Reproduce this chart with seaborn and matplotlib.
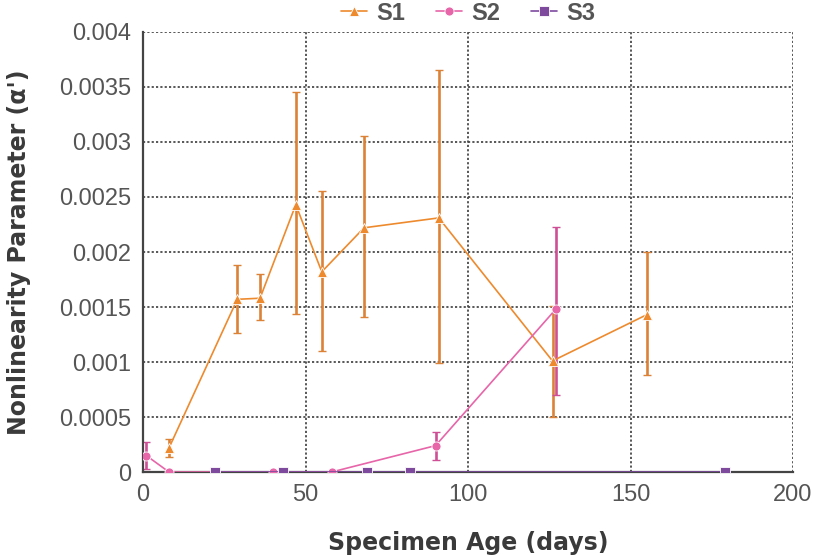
import matplotlib
matplotlib.use("Agg")
import matplotlib.pyplot as plt
import seaborn as sns
import pandas as pd

# Specimen S1
s1_age = [8, 29, 36, 47, 55, 68, 91, 126, 155]
s1_val = [0.00022, 0.00157, 0.00158, 0.00243, 0.00182, 0.00222, 0.00231, 0.00101, 0.00143]
s1_err_lo = [0.00008, 0.00031, 0.00020, 0.00099, 0.00072, 0.00081, 0.00132, 0.00051, 0.00055]
s1_err_hi = [0.00008, 0.00031, 0.00022, 0.00102, 0.00073, 0.00083, 0.00134, 0.00050, 0.00057]

# Specimen S2
s2_age = [1, 8, 40, 58, 90, 127]
s2_val = [0.00015, 0.0, 0.0, 0.0, 0.00024, 0.00148]
s2_err_lo = [0.00012, 0.0, 0.0, 0.0, 0.00013, 0.00078]
s2_err_hi = [0.00012, 0.0, 0.0, 0.0, 0.00012, 0.00075]

# Specimen S3
s3_age = [22, 43, 69, 82, 179]
s3_val = [0.0, 0.0, 0.0, 0.0, 0.0]

y_ticks = [0, 0.0005, 0.001, 0.0015, 0.002, 0.0025, 0.003, 0.0035, 0.004]
y_tick_labels = ["0", "0.0005", "0.001", "0.0015", "0.002", "0.0025", "0.003", "0.0035", "0.004"]
x_ticks = [0, 50, 100, 150, 200]

c1, c2, c3 = "#EE8A2E", "#E765A9", "#7E4A9E"

sns.set_theme(style="white")
plt.rcParams["font.family"] = ["Liberation Sans", "DejaVu Sans"]

fig = plt.figure(figsize=(8.15, 5.56), dpi=100)
ax = fig.add_axes([0.1755, 0.151, 0.7975, 0.7915])

df = pd.concat([
    pd.DataFrame({"age": s1_age, "val": s1_val, "series": "S1"}),
    pd.DataFrame({"age": s2_age, "val": s2_val, "series": "S2"}),
    pd.DataFrame({"age": s3_age, "val": s3_val, "series": "S3"}),
])

# error bars first so the lines and markers sit on top
for ages, vals, lo, hi, col in [(s1_age, s1_val, s1_err_lo, s1_err_hi, "#DB8236"),
                                (s2_age, s2_val, s2_err_lo, s2_err_hi, "#CF4F96")]:
    _, caps, _ = ax.errorbar(ages, vals, yerr=[lo, hi], fmt="none", ecolor=col,
                             elinewidth=1.9, capsize=3, capthick=1.0, zorder=2)
    for cap in caps:
        cap.set_color("#8a8a8a")

sns.lineplot(data=df, x="age", y="val", hue="series", style="series",
             palette={"S1": c1, "S2": c2, "S3": c3},
             markers={"S1": "^", "S2": "o", "S3": "s"},
             dashes=False, markersize=6.5, linewidth=1.2,
             markeredgewidth=0.6, ax=ax, sort=False, zorder=3)

ax.set_xlim(0, 200)
ax.set_ylim(0, 0.004)
ax.set_xticks(x_ticks)
ax.set_yticks(y_ticks)
ax.set_yticklabels(y_tick_labels)
ax.tick_params(axis="both", labelsize=17, colors="#444444", length=5,
               direction="inout", width=1.2, pad=6)
for lab in ax.get_xticklabels() + ax.get_yticklabels():
    lab.set_color("#555555")

ax.grid(True, linestyle=(0, (1.2, 1.2)), color="#4a4a4a", linewidth=1.3)
for side in ["top", "right"]:
    ax.spines[side].set_visible(False)
for side in ["left", "bottom"]:
    ax.spines[side].set_color("#444444")
    ax.spines[side].set_linewidth(1.6)

label_font = dict(fontsize=17, fontweight="bold", color="#3a3a3a", family=["DejaVu Sans"])
ax.set_xlabel("Specimen Age (days)", labelpad=18, **label_font)
ax.set_ylabel("Nonlinearity Parameter (\u03b1')", labelpad=20, **label_font)

handles, labels = ax.get_legend_handles_labels()
leg = ax.legend(handles, labels, loc="lower center", bbox_to_anchor=(0.5, 0.995),
                ncol=3, frameon=False, fontsize=17, handlelength=1.1,
                columnspacing=1.3, handletextpad=0.4, borderaxespad=0)
for t in leg.get_texts():
    t.set_color("#555555")
    t.set_fontweight("bold")

fig.savefig("out.png", dpi=100)
